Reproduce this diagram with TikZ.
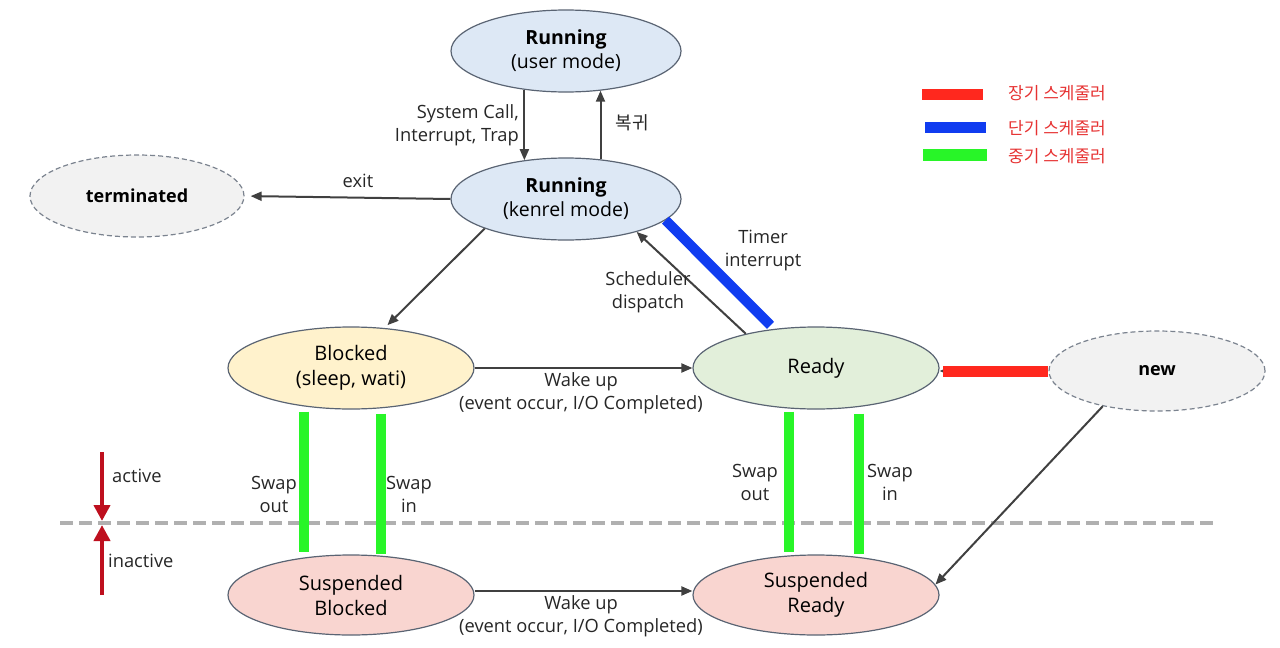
\documentclass[tikz,border=0pt]{standalone}
\usepackage{fontspec}
\setmainfont{Open Sans}
\newfontfamily\kr{Noto Sans CJK KR}
\usetikzlibrary{arrows.meta,calc,shapes.geometric}
\definecolor{edge}{RGB}{90,100,115}
\definecolor{runfill}{RGB}{221,232,245}
\definecolor{blkfill}{RGB}{255,242,204}
\definecolor{rdyfill}{RGB}{226,239,218}
\definecolor{susfill}{RGB}{249,213,208}
\definecolor{endfill}{RGB}{242,242,242}
\definecolor{arrcol}{RGB}{64,64,64}
\definecolor{bluebar}{RGB}{16,60,240}
\definecolor{redbar}{RGB}{255,40,30}
\definecolor{greenbar}{RGB}{40,245,40}
\definecolor{darkred}{RGB}{190,15,30}
\definecolor{legtext}{RGB}{230,50,50}
\definecolor{dashgray}{RGB}{176,176,176}
\tikzset{
  x=1pt,y=-1pt,
  state/.style={ellipse,draw=edge,line width=1.2pt,minimum width=246pt,minimum height=82pt,inner sep=0pt,align=center,font=\fontsize{20}{25}\selectfont},
  runstate/.style={state,fill=runfill,minimum width=230pt,font=\fontsize{19.5}{24}\selectfont},
  endstate/.style={state,fill=endfill,draw=edge!80,dashed,dash pattern=on 5pt off 3pt,font=\fontsize{18}{24}\selectfont\bfseries},
  arr/.style={draw=arrcol,line width=2pt,-{Triangle[length=11pt,width=9pt]}},
  lbl/.style={font=\fontsize{18.3}{23}\selectfont,align=center,inner sep=0pt,text=black!85},
  gbar/.style={draw=greenbar,line width=10pt},
  rbar/.style={draw=redbar,line width=11pt},
  bbar/.style={draw=bluebar,line width=10pt},
  actarr/.style={draw=darkred,line width=4pt,-{Triangle[length=16pt,width=16pt]}},
  legtxt/.style={font=\kr\fontsize{17}{20}\selectfont,text=legtext,anchor=west,inner sep=0pt}
}
\begin{document}
\begin{tikzpicture}
\useasboundingbox (0,0) rectangle (1280,648);
% dashed separator
\draw[dashgray,line width=4pt,dash pattern=on 13pt off 6pt] (60,523) -- (1213,523);
% states
\node[runstate] (user) at (566,51) {\textbf{Running}\\(user mode)};
\node[runstate] (kern) at (566,199) {\textbf{Running}\\(kenrel mode)};
\node[endstate,minimum width=214pt,minimum height=82pt] (term) at (137,196) {terminated};
\node[state,fill=blkfill] (blk) at (351,368) {Blocked\\(sleep, wati)};
\node[state,fill=rdyfill] (rdy) at (816,368) {Ready};
\node[endstate,minimum width=216pt,minimum height=80pt] (new) at (1157,371) {new};
\node[state,fill=susfill,minimum height=80pt] (sb) at (351,595) {Suspended\\Blocked};
\node[state,fill=susfill,minimum height=80pt] (sr) at (816,595) {Suspended\\Ready};
% user <-> kernel
\draw[arr] (user.223) -- (kern.137);
\draw[arr] (kern.49) -- (user.-49);
\node[lbl,anchor=east,align=right] (sclbl) at (519,125) {System Call,\\Interrupt, Trap};
\node[lbl,font=\kr\fontsize{18}{23}\selectfont] (retlbl) at (632,123) {복귀};
% exit
\draw[arr,shorten >=6pt] (kern.west) -- (term.east);
\node[lbl] (exitlbl) at (358,181) {exit};
% kernel -> blocked
\draw[arr,shorten >=4pt] (kern.200) -- (blk.50);
% ready -> kernel (dispatch)
\draw[arr] (rdy.154) -- (kern.-25);
\node[lbl] (displbl) at (648,292) {Scheduler\\dispatch};
% timer interrupt (short-term scheduler)
\draw[bbar,shorten >=5pt] (kern.-12) -- (rdy.137);
\node[lbl] (timlbl) at (763,250) {Timer\\interrupt};
% wake up
\draw[arr] (blk.east) -- (rdy.west);
\node[lbl] (wk1) at (581,393) {Wake up\\(event occur, I/O Completed)};
\draw[arr] ([yshift=4pt]sb.east) -- ([yshift=4pt]sr.west);
\node[lbl] (wk2) at (581,616) {Wake up\\(event occur, I/O Completed)};
% new -> ready (long-term scheduler)
\draw[arr] (new.west) -- (new.west -| rdy.east);
\draw[rbar,shorten >=3pt] (new.west) -- (new.west -| rdy.east);
% new -> suspended ready
\draw[arr] (new.213) -- (sr.5);
% swaps
\draw[gbar] ($(blk.south)+(-47,2)$) -- ($(sb.north)+(-47,-2)$);
\draw[gbar] ($(blk.south)+(30,4)$) -- ($(sb.north)+(30,0)$);
\draw[gbar] ($(rdy.south)+(-27,2)$) -- ($(sr.north)+(-27,-2)$);
\draw[gbar] ($(rdy.south)+(43,4)$) -- ($(sr.north)+(43,0)$);
\node[lbl] (so1) at (274,494) {Swap\\out};
\node[lbl] (si1) at (409,494) {Swap\\in};
\node[lbl] (so2) at (755,482) {Swap\\out};
\node[lbl] (si2) at (890,482) {Swap\\in};
% active / inactive
\coordinate (atop) at (102,452);
\coordinate (amid) at (102,521);
\coordinate (bmid) at (102,525);
\coordinate (ibot) at (102,595);
\draw[actarr] (atop) -- (amid);
\draw[actarr] (ibot) -- (bmid);
\node[lbl,anchor=west] (actlbl) at (112,476) {active};
\node[lbl,anchor=west] (inactlbl) at (108,561) {inactive};
% legend
\coordinate (l1a) at (922,94); \coordinate (l1b) at (983,94);
\coordinate (l2a) at (925,127); \coordinate (l2b) at (986,127);
\coordinate (l3a) at (923,155); \coordinate (l3b) at (987,155);
\draw[rbar,line width=11pt] (l1a) -- (l1b);
\draw[bbar,line width=11pt] (l2a) -- (l2b);
\draw[gbar,line width=12pt] (l3a) -- (l3b);
\node[legtxt] (lt1) at (1008,93) {장기 스케줄러};
\node[legtxt] (lt2) at (1008,128) {단기 스케줄러};
\node[legtxt] (lt3) at (1008,156) {중기 스케줄러};
\end{tikzpicture}
\end{document}
